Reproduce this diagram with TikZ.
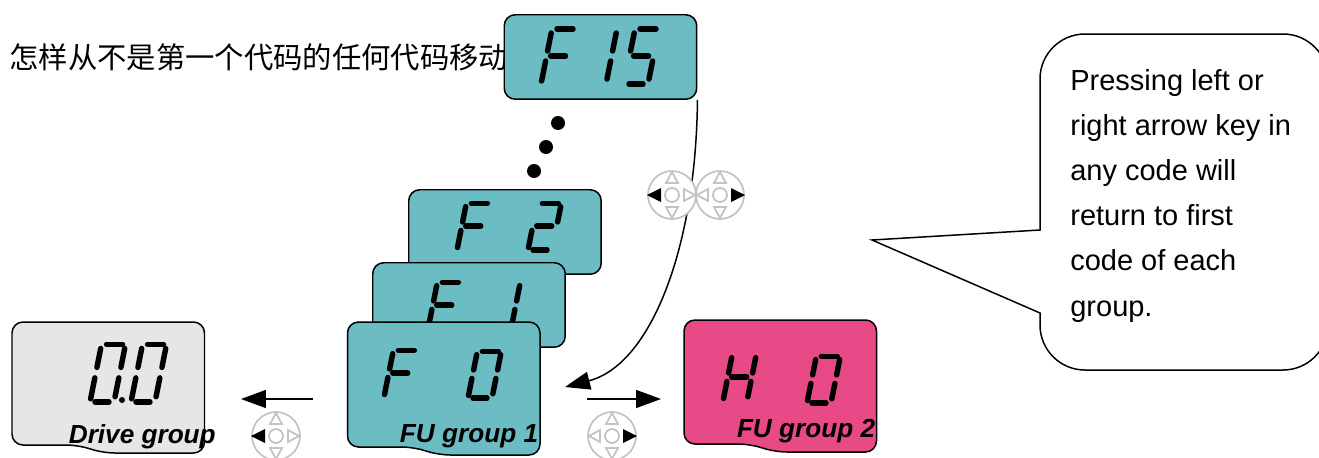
\documentclass[tikz,border=0pt]{standalone}
\usepackage{fontspec}
\setmainfont{Liberation Sans}
\newfontfamily\cjk{Noto Sans CJK SC}
\usetikzlibrary{arrows.meta}

\definecolor{lcdteal}{RGB}{108,189,195}
\definecolor{lcdpink}{RGB}{231,74,134}
\definecolor{lcdgrey}{RGB}{230,230,230}
\definecolor{padgrey}{RGB}{195,195,195}

% one display digit: origin x, origin y, height factor, list of segments
\newcommand{\lcddigit}[4]{
	\begin{scope}[shift={(#1,#2)},xslant=0.2,yscale=#3]
		\foreach \s in {#4} {\draw[segline,seg \s];}
	\end{scope}
}
% card with the notch in its lower edge: x, y, height, fill
\newcommand{\groupcard}[4]{
	\begin{scope}[shift={(#1,#2)}]
		\draw[cardline,fill=#4,rounded corners=0.22cm] (0,0) -- (192.5,0) -- (192.5,#3+8) -- (92,#3+8) -- (65,#3) -- (0,#3) -- cycle;
	\end{scope}
}

\begin{document}
\begin{tikzpicture}[x=0.02cm,y=-0.02cm]
		
		\tikzset{cardline/.style = {draw,line width=0.85pt}}
		\tikzset{lcdcard/.style = {cardline,shape=rectangle,anchor=north west,rounded corners=0.22cm,minimum width=3.85cm,minimum height=1.69cm,inner sep=0pt}}
		\tikzset{segline/.style = {line width=3.1pt,line cap=round}}
		\tikzset{seg a/.style = {insert path={(5,-55) -- (21,-55)}}}
		\tikzset{seg b/.style = {insert path={(24,-51) -- (24,-33)}}}
		\tikzset{seg c/.style = {insert path={(24,-23) -- (24,-5)}}}
		\tikzset{seg d/.style = {insert path={(5,0) -- (19,0)}}}
		\tikzset{seg e/.style = {insert path={(0,-23) -- (0,-3)}}}
		\tikzset{seg f/.style = {insert path={(0,-51) -- (0,-33)}}}
		\tikzset{seg g/.style = {insert path={(4,-28) -- (19,-28)}}}
		\tikzset{grouplabel/.style = {font=\fontsize{14.9pt}{18pt}\selectfont\bfseries\itshape,inner sep=0pt}}
		\tikzset{arrowline/.style = {line width=0.85pt,-{Triangle[length=0.5cm,width=0.36cm]}}}
		\tikzset{padline/.style = {draw=padgrey,line width=1pt}}
		\tikzset{padbase/.pic = {
			\draw[padline,fill=white] (0,0) circle (0.48cm);
			\draw[padline] (0,0) circle (0.14cm);
			\draw[padline] (0,-23) -- (-6,-12) -- (6,-12) -- cycle;
			\draw[padline] (0,23) -- (-6,12) -- (6,12) -- cycle;
		}}
		\tikzset{padleft/.pic = {
			\pic {padbase};
			\draw[padline] (23,0) -- (12,-6) -- (12,6) -- cycle;
			\fill (-25,0) -- (-11,-7) -- (-11,7) -- cycle;
		}}
		\tikzset{padright/.pic = {
			\pic {padbase};
			\draw[padline] (-23,0) -- (-12,-6) -- (-12,6) -- cycle;
			\fill (25,0) -- (11,-7) -- (11,7) -- cycle;
		}}
		
		\useasboundingbox (0,0) rectangle (1319,457);
		
		\node[anchor=west,inner sep=0pt,font=\fontsize{16.7pt}{20pt}\selectfont\cjk] (title) at (9,57) {怎样从不是第一个代码的任何代码移动};
		
		% top card and the dots
		\node[lcdcard,fill=lcdteal] (F15) at (503.5,14) {};
		\lcddigit{541}{84}{1}{a,e,f,g}
		\lcddigit{582}{84}{1}{b,c}
		\lcddigit{624}{84}{1}{a,c,d,f,g}
		
		\foreach \px/\py [count=\n] in {558/123,546/147,534/171}
			\fill (\px,\py) circle (0.14cm) coordinate (dot\n);
		
		% stack of cards
		\node[lcdcard,fill=lcdteal] (F2) at (408,189) {};
		\lcddigit{457}{250}{0.85}{a,e,f,g}
		\lcddigit{528}{250}{0.85}{a,b,d,e,g}
		
		\node[lcdcard,fill=lcdteal] (F1) at (372,262) {};
		\lcddigit{428}{329}{0.85}{a,e,f,g}
		\lcddigit{487}{329}{0.85}{b,c}
		
		\groupcard{347.5}{322}{125}{lcdteal}
		\lcddigit{384}{397}{0.85}{a,e,f,g}
		\lcddigit{468}{398}{0.85}{a,b,c,d,e,f}
		\node[grouplabel,anchor=east] (labelF) at (538.5,436) {FU group 1};
		
		\groupcard{12}{322}{123}{lcdgrey}
		\lcddigit{90}{402}{1.05}{a,b,c,d,e,f}
		\lcddigit{131}{402}{1.05}{a,b,c,d,e,f}
		\fill (122,400) circle (0.06cm) coordinate (point);
		\node[grouplabel,anchor=west] (labelD) at (68.5,437) {Drive group};
		
		\groupcard{684}{320}{124}{lcdpink}
		\lcddigit{723}{401}{0.85}{b,c,e,f,g}
		\lcddigit{807}{403}{0.85}{a,b,c,d,e,f}
		\node[grouplabel,anchor=east] (labelH) at (875.5,431) {FU group 2};
		
		% connectors
		\coordinate (backTip) at (565,387);
		\coordinate (leftFrom) at (313,399);
		\coordinate (leftTo) at (241,399);
		\coordinate (rightFrom) at (587,399);
		\coordinate (rightTo) at (661,399);
		
		\draw[arrowline] (F15.south east) .. controls (696,250) and (650,365) .. (backTip);
		\draw[arrowline] (leftFrom) -- (leftTo);
		\draw[arrowline] (rightFrom) -- (rightTo);
		
		\pic (padA) at (672,195) {padleft};
		\pic (padB) at (720,195) {padright};
		\pic (padC) at (276,436) {padleft};
		\pic (padD) at (612,436) {padright};
		
		% note at the right
		\draw[line width=0.85pt] (1040,230) [rounded corners=0.9cm] -- (1040,34) -- (1328,34) -- (1328,370) -- (1040,370) [sharp corners] -- (1040,313) -- (872,240) -- cycle;
		\node[anchor=north west,inner sep=0pt,align=left,font=\fontsize{16.5pt}{25.7pt}\selectfont] (note) at (1070,69) {Pressing left or\\right arrow key in\\any code will\\return to first\\code of each\\group.};
		
\end{tikzpicture}
\end{document}
